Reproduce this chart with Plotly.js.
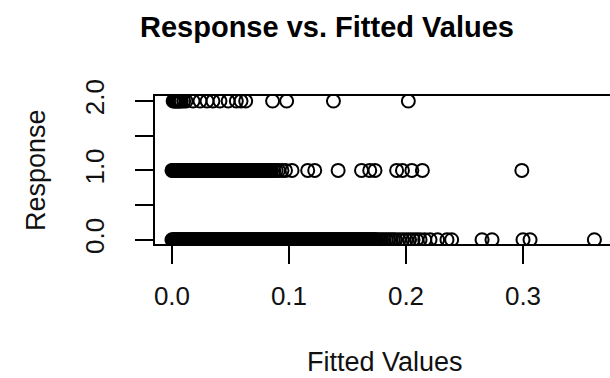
<!DOCTYPE html>
<html>
<head>
<meta charset="utf-8">
<script src="https://cdn.plot.ly/plotly-3.0.1.min.js"></script>
<style>
  html, body { margin: 0; padding: 0; overflow: hidden; background: #fff; }
  #chart { width: 616px; height: 378px; }
</style>
</head>
<body>
<div id="chart"></div>
<script>
// Fitted values grouped by observed response (0, 1, 2)
const responseLevels = [0, 1, 2];

const fittedResp0 = [
  0.000, 0.001, 0.002, 0.003, 0.004, 0.005, 0.006, 0.007, 0.008, 0.009,
  0.010, 0.011, 0.012, 0.013, 0.014, 0.015, 0.016, 0.017, 0.018, 0.019,
  0.020, 0.021, 0.022, 0.023, 0.024, 0.025, 0.026, 0.027, 0.028, 0.029,
  0.030, 0.031, 0.032, 0.033, 0.034, 0.035, 0.036, 0.037, 0.038, 0.039,
  0.040, 0.041, 0.042, 0.043, 0.044, 0.045, 0.046, 0.047, 0.048, 0.049,
  0.050, 0.051, 0.052, 0.053, 0.054, 0.055, 0.056, 0.057, 0.058, 0.059,
  0.060, 0.061, 0.062, 0.063, 0.064, 0.065, 0.066, 0.067, 0.068, 0.069,
  0.070, 0.071, 0.072, 0.073, 0.074, 0.075, 0.076, 0.077, 0.078, 0.079,
  0.080, 0.081, 0.082, 0.083, 0.084, 0.085, 0.086, 0.087, 0.088, 0.089,
  0.090, 0.091, 0.092, 0.093, 0.094, 0.095, 0.096, 0.097, 0.098, 0.099,
  0.100, 0.101, 0.102, 0.103, 0.104, 0.105, 0.106, 0.107, 0.108, 0.109,
  0.110, 0.111, 0.112, 0.113, 0.114, 0.115, 0.116, 0.117, 0.118, 0.119,
  0.120, 0.121, 0.122, 0.123, 0.124, 0.125, 0.126, 0.127, 0.128, 0.129,
  0.130, 0.131, 0.132, 0.133, 0.134, 0.135, 0.136, 0.137, 0.138, 0.139,
  0.140, 0.141, 0.142, 0.143, 0.144, 0.145, 0.146, 0.147, 0.148, 0.149,
  0.150, 0.151, 0.152, 0.153, 0.154, 0.155, 0.156, 0.157, 0.158, 0.159,
  0.160, 0.161, 0.162, 0.163, 0.164, 0.165, 0.166, 0.167, 0.168, 0.169,
  0.170, 0.171, 0.172, 0.173, 0.174, 0.175, 0.177, 0.179, 0.181, 0.183,
  0.185, 0.187, 0.189, 0.191, 0.194, 0.197, 0.200, 0.203, 0.206, 0.209,
  0.212, 0.216,
  0.2205, 0.227, 0.235, 0.239, 0.265, 0.2735, 0.300, 0.306, 0.361
];

const fittedResp1 = [
  0.000, 0.001, 0.002, 0.003, 0.004, 0.005, 0.006, 0.007, 0.008, 0.009,
  0.010, 0.011, 0.012, 0.013, 0.014, 0.015, 0.016, 0.017, 0.018, 0.019,
  0.020, 0.021, 0.022, 0.023, 0.024, 0.025, 0.026, 0.027, 0.028, 0.029,
  0.030, 0.031, 0.032, 0.033, 0.034, 0.035, 0.036, 0.037, 0.038, 0.039,
  0.040, 0.041, 0.042, 0.043, 0.044, 0.045, 0.046, 0.047, 0.048, 0.049,
  0.050, 0.051, 0.052, 0.053, 0.054, 0.055, 0.056, 0.057, 0.058, 0.059,
  0.060, 0.061, 0.062, 0.063, 0.064, 0.065, 0.066, 0.067, 0.068, 0.069,
  0.070, 0.071, 0.072, 0.073, 0.074, 0.075, 0.076, 0.077, 0.078, 0.079,
  0.080, 0.081, 0.082, 0.083, 0.084, 0.085, 0.087, 0.089, 0.091, 0.094,
  0.097,
  0.1026, 0.116, 0.122, 0.142, 0.162, 0.169, 0.1735, 0.192, 0.197,
  0.205, 0.214, 0.299
];

const fittedResp2 = [
  0.001, 0.002, 0.003, 0.004, 0.005, 0.006, 0.007, 0.008, 0.010, 0.012,
  0.018, 0.024, 0.030, 0.035, 0.041, 0.048, 0.055, 0.059, 0.063,
  0.086, 0.098, 0.138, 0.202
];

const xTickVals = [0, 0.1, 0.2, 0.3];
const xTickText = ['0.0', '0.1', '0.2', '0.3'];
const yTickVals = [0, 0.5, 1, 1.5, 2];
const yTickText = ['0.0', '', '1.0', '', '2.0'];

const groups = [fittedResp0, fittedResp1, fittedResp2];

const FONT = 'Liberation Sans, Arial, sans-serif';

const traces = groups.map((xs, i) => ({
  type: 'scatter',
  mode: 'markers',
  x: xs,
  y: xs.map(() => responseLevels[i]),
  marker: {
    symbol: 'circle-open',
    size: 13,
    color: '#000',
    line: { width: 2, color: '#000' }
  },
  hoverinfo: 'x+y',
  showlegend: false
}));

const axisCommon = {
  showgrid: false,
  zeroline: false,
  showline: true,
  mirror: true,
  linecolor: '#000',
  linewidth: 2,
  ticks: 'outside',
  ticklen: 18,
  tickwidth: 2,
  tickcolor: '#000',
  tickfont: { family: FONT, size: 26, color: '#111' },
  automargin: false
};

const layout = {
  width: 616,
  height: 378,
  margin: { l: 155, r: 3, t: 96, b: 134 },
  paper_bgcolor: '#fff',
  plot_bgcolor: '#fff',
  title: {
    text: '<b>Response vs. Fitted Values</b>',
    font: { family: FONT, size: 29, color: '#000' },
    xref: 'container',
    yref: 'container',
    x: 327 / 616,
    xanchor: 'center',
    y: 1 - 27 / 378,
    yanchor: 'middle'
  },
  xaxis: Object.assign({}, axisCommon, {
    range: [-0.0145, 0.3769],
    tickmode: 'array',
    tickvals: xTickVals,
    ticktext: xTickText,
    ticklabelstandoff: 10
  }),
  yaxis: Object.assign({}, axisCommon, {
    range: [-0.062, 2.073],
    tickmode: 'array',
    tickvals: yTickVals,
    ticktext: yTickText,
    tickangle: -90,
    ticklabelstandoff: 21
  }),
  annotations: [
    {
      text: 'Fitted Values',
      xref: 'paper', yref: 'paper',
      x: (384.5 - 155) / 458, y: (244 - 362) / 148,
      xanchor: 'center', yanchor: 'middle',
      showarrow: false,
      font: { family: FONT, size: 27, color: '#111' }
    },
    {
      text: 'Response',
      xref: 'paper', yref: 'paper',
      x: (36 - 155) / 458, y: 0.5,
      xanchor: 'center', yanchor: 'middle',
      textangle: -90,
      showarrow: false,
      font: { family: FONT, size: 27, color: '#111' }
    }
  ]
};

Plotly.newPlot('chart', traces, layout, { displayModeBar: false, staticPlot: true });
</script>
</body>
</html>
